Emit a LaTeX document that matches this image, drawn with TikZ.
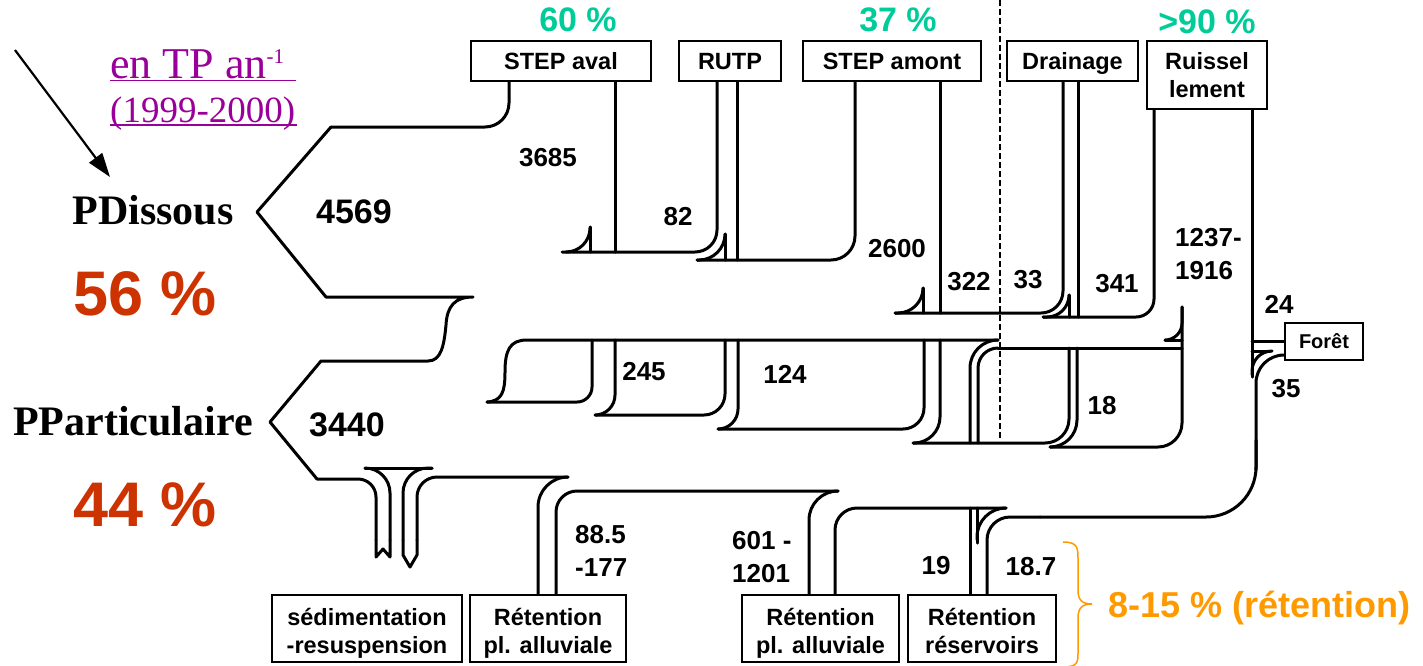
\documentclass[tikz,border=0pt]{standalone}
\usepackage{fontspec}
\setmainfont{Liberation Serif}
\newfontfamily\arial{Liberation Sans}
\usetikzlibrary{arrows.meta}
\definecolor{tpgreen}{RGB}{0,204,153}
\definecolor{tpred}{RGB}{204,51,0}
\definecolor{tporange}{RGB}{255,153,0}
\definecolor{tppurple}{RGB}{153,0,153}
\begin{document}
\begin{tikzpicture}[x=1pt,y=-1pt,
  fl/.style={line width=3pt, line cap=round, line join=round},
  box/.style={draw, line width=2.4pt, inner sep=0pt, align=center, text height=16.8pt, text depth=0pt, font=\arial\bfseries\fontsize{23.5}{28}\selectfont},
  lowbox/.style={box, text height=49pt, minimum height=67pt},
  num/.style={inner sep=0pt, font=\arial\bfseries\fontsize{26}{33}\selectfont},
  bignum/.style={inner sep=0pt, font=\arial\bfseries\fontsize{34}{40}\selectfont},
  pct/.style={inner sep=0pt, text=tpgreen, font=\arial\bfseries\fontsize{34}{40}\selectfont},
  share/.style={inner sep=0pt, text=tpred, font=\arial\bfseries\fontsize{63}{70}\selectfont},
  phase/.style={inner sep=0pt, font=\bfseries\fontsize{42}{50}\selectfont},
  unitlab/.style={inner sep=0pt, anchor=base west, text=tppurple}
]
\useasboundingbox (0,0) rectangle (1423,665);

% ---------- boxes ----------
\node[box, minimum width=180pt, minimum height=40pt] (sa) at (561,61) {STEP aval};
\node[box, minimum width=102pt, minimum height=40pt] (rutp) at (730,61) {RUTP};
\node[box, minimum width=178pt, minimum height=40pt] (sam) at (892,61) {STEP amont};
\node[box, minimum width=131pt, minimum height=40pt] (dr) at (1072.5,61) {Drainage};
\node[box, minimum width=120pt, minimum height=68pt, text height=44.8pt] (ru) at (1207,75) {Ruissel\\lement};
\node[box, minimum width=78pt, minimum height=37pt, text height=14.3pt, font=\arial\bfseries\fontsize{20}{24}\selectfont] (fo) at (1324,341.5) {Forêt};
\node[lowbox, minimum width=190pt] (sed) at (367,628.5) {sédimentation\\-resuspension};
\node[lowbox, minimum width=156pt] (r1) at (548,628.5) {Rétention\\pl. alluviale};
\node[lowbox, minimum width=157pt] (r2) at (820.5,628.5) {Rétention\\pl. alluviale};
\node[lowbox, minimum width=148pt] (r3) at (982,628.5) {Rétention\\réservoirs};

% ---------- dashed separator ----------
\coordinate (d0) at (1000,0);
\coordinate (d1) at (1000,440);
\draw[line width=1.3pt, dash pattern=on 6pt off 3pt] (d0) -- (d1);

% ---------- outline P dissous / P particulaire ----------
\draw[fl, rounded corners=24] (509,0 |- sa.south) -- (509,127) -- (331,127);
\draw[fl] (331,127) -- (257,212) -- (326,297) -- (473,297)
  .. controls (455,297) and (447,306) .. (446,325)
  .. controls (444,346) and (441,361) .. (428,361) -- (321,361) -- (270,422) -- (317,479);
\draw[fl, rounded corners=18] (317,479) -- (376,479) -- (376,540);
\draw[fl] (376,540) -- (376,557) -- (383,549) -- (390,557) -- (390,540);
\draw[fl, rounded corners=25] (390,540) -- (390,468) -- (365,468);
\draw[fl] (365,468) -- (432,468);
\draw[fl, rounded corners=25] (432,468) -- (403,468) -- (403,540);
\draw[fl] (403,540) -- (403,555) -- (410,567) -- (417,555) -- (417,540);
\draw[fl, rounded corners=20] (417,540) -- (417,477) -- (568,477);
\draw[fl, rounded corners=30] (568,477) -- (538,477) -- (538,0 |- r1.north);

% ---------- upper (dissolved) flows ----------
\draw[fl] (615,0 |- sa.south) -- (615,252);
\draw[fl, rounded corners=22] (562,252) -- (717,252) -- (717,0 |- rutp.south);
\draw[fl] (590,227) -- (590,252);
\draw[fl, rounded corners=24] (590,227) -- (590,252) -- (566,252);
\draw[fl] (725,234) -- (725,260);
\draw[fl, rounded corners=26] (725,234) -- (725,260) -- (697,260);
\draw[fl] (737,0 |- rutp.south) -- (737,260);
\draw[fl, rounded corners=24] (697,260) -- (855,260) -- (855,0 |- sam.south);
\draw[fl] (923,288) -- (923,313);
\draw[fl, rounded corners=25] (923,288) -- (923,313) -- (895,313);
\draw[fl] (940,0 |- sam.south) -- (940,313);
\draw[fl, rounded corners=22] (895,313) -- (1063,313) -- (1063,0 |- dr.south);
\draw[fl] (1069,295) -- (1069,317);
\draw[fl, rounded corners=22] (1069,295) -- (1069,317) -- (1043,317);
\draw[fl] (1078,0 |- dr.south) -- (1078,317);
\draw[fl, rounded corners=18] (1043,317) -- (1154,317) -- (1154,0 |- ru.south);
\draw[fl] (1252,0 |- ru.south) -- (1252,377);
\draw[fl] (1252,0 |- fo.west) -- (fo.west);
\draw[fl] (1252,351) -- (1270,351);
\draw[fl, rounded corners=20] (1270,351) -- (1252,351) -- (1252,375);

% ---------- Foret / ruissellement particulate loop ----------
\draw[fl, rounded corners=28] (fo.west |- 0,355) -- (1256,355) -- (1256,470);
\draw[fl, rounded corners=50] (1256,440) -- (1256,517) -- (1040,517);
\draw[fl, rounded corners=23] (1040,517) -- (987,517) -- (987,0 |- r3.north);

% ---------- middle (particulate) flows ----------
\draw[fl] (487,402) .. controls (502,401) and (505,392) .. (505,372)
  .. controls (505,350) and (510,340) .. (527,340) -- (998,340);
\draw[fl, rounded corners=15] (487,402) -- (592,402) -- (592,340);
\draw[fl, rounded corners=20] (615,340) -- (615,415) -- (596,415);
\draw[fl, rounded corners=21] (596,415) -- (725,415) -- (725,340);
\draw[fl, rounded corners=20] (738,340) -- (738,429) -- (718,429);
\draw[fl, rounded corners=21] (718,429) -- (924,429) -- (924,340);
\draw[fl, rounded corners=26] (940,340) -- (940,443) -- (913,443);
\draw[fl, rounded corners=24] (913,443) -- (1069,443) -- (1069,348);
\draw[fl, rounded corners=28] (998,340) -- (970,340) -- (970,443);
\draw[fl, rounded corners=20] (998,348) -- (978,348) -- (978,443);
\draw[fl] (998,348) -- (1182,348);
\draw[fl, rounded corners=27] (1077,348) -- (1077,447) -- (1050,447);
\draw[fl, rounded corners=24] (1050,447) -- (1182,447) -- (1182,307);
\draw[fl] (1165,340) -- (1182,340);
\draw[fl, rounded corners=17] (1182,307) -- (1182,340) -- (1165,340);

% ---------- bottom flows ----------
\draw[fl, rounded corners=21] (556,0 |- r1.north) -- (556,491) -- (838,491);
\draw[fl, rounded corners=29] (838,491) -- (809,491) -- (809,0 |- r2.north);
\draw[fl, rounded corners=22] (835,0 |- r2.north) -- (835,508) -- (1006,508);
\draw[fl] (970,508) -- (970,0 |- r3.north);
\draw[fl] (977,508) -- (977,543);
\draw[fl, rounded corners=29] (1006,508) -- (977,508) -- (977,540);

% ---------- numbers ----------
\node[num] (n3685) at (548,158) {3685};
\node[bignum] (n4569) at (354,212) {4569};
\node[num] (n82) at (678,217) {82};
\node[num] (n2600) at (897,249) {2600};
\node[num] (n322) at (969,282) {322};
\node[num] (n33) at (1028,280) {33};
\node[num] (n341) at (1117,284) {341};
\node[num, anchor=west, align=left] (nru) at (1175,254.5) {1237-\\1916};
\node[num] (n24) at (1279,304) {24};
\node[num] (n35) at (1286,389) {35};
\node[num] (n245) at (644,372) {245};
\node[num] (n124) at (785,374) {124};
\node[num] (n18) at (1102,406) {18};
\node[bignum] (n3440) at (347,425) {3440};
\node[num, anchor=west, align=left] (n885) at (575,550.5) {88.5\\-177};
\node[num, anchor=west, align=left] (n601) at (732,557.5) {601 -\\1201};
\node[num] (n19) at (936,566) {19};
\node[num] (n187) at (1031,567) {18.7};

% ---------- percentages ----------
\node[pct] (p60) at (578,20) {60 \%};
\node[pct] (p37) at (898,20) {37 \%};
\node[pct] (p90) at (1207,22) {>90 \%};

% ---------- left side ----------
\node[phase] (pd) at (153,210) {PDissous};
\node[phase] (pp) at (133,421) {PParticulaire};
\node[share] (s56) at (145,294) {56 \%};
\node[share] (s44) at (145,505) {44 \%};

\node[unitlab, font=\fontsize{44}{50}\selectfont] (unit) at (110,78) {en TP an\raisebox{15pt}{\fontsize{21}{24}\selectfont -1}};
\node[unitlab, font=\fontsize{37}{44}\selectfont] (years) at (110,122) {(1999-2000)};
\draw[tppurple, line width=1.8pt] ([yshift=-2.5pt]unit.base west) -- ++(186,0);
\draw[tppurple, line width=1.8pt] ([yshift=-3pt]years.base west) -- ++(187,0);

\coordinate (a0) at (15,50);
\coordinate (a1) at (110,177);
\draw[line width=2.2pt, -{Triangle[length=24pt,width=16pt]}] (a0) -- (a1);

% ---------- retention brace ----------
\coordinate (b0) at (1063,542);
\coordinate (b1) at (1063,667);
\draw[tporange, line width=1.5pt] (b0) .. controls (1078,542) and (1078,548) .. (1078,560) -- (1078,590)
  .. controls (1078,600) and (1082,604) .. (1092,604)
  .. controls (1082,604) and (1078,608) .. (1078,618) -- (1078,652)
  .. controls (1078,662) and (1078,667) .. (b1);
\node[inner sep=0pt, anchor=west, text=tporange, font=\arial\bfseries\fontsize{36}{42}\selectfont] (ret) at (1108,608) {8-15 \% (rétention)};
\end{tikzpicture}
\end{document}
